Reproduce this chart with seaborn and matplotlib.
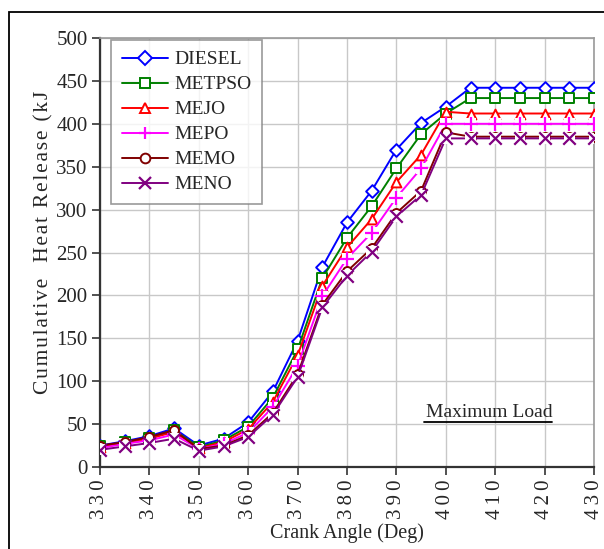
import matplotlib
matplotlib.use("Agg")
import matplotlib.pyplot as plt
import seaborn as sns
import pandas as pd
from matplotlib.patches import Rectangle
from matplotlib.lines import Line2D

crank_angle = [330, 335, 340, 345, 350, 355, 360, 365, 370, 375, 380,
               385, 390, 395, 400, 405, 410, 415, 420, 425, 430]
diesel = [25, 30, 36, 45, 25, 33, 52, 88, 147, 233, 285, 322, 370, 401, 420,
          442, 442, 442, 442, 442, 442]
metpso = [24, 29, 34, 43, 23, 31, 47, 81, 137, 220, 267, 304, 348, 388, 412,
          430, 430, 430, 430, 430, 430]
mejo = [23, 28, 33, 41, 22, 29, 44, 76, 130, 211, 256, 289, 332, 364, 414,
        412, 412, 412, 412, 412, 412]
mepo = [22, 27, 31, 38, 21, 27, 40, 70, 118, 199, 243, 273, 314, 348, 400,
        400, 400, 400, 400, 400, 400]
memo = [25, 29, 35, 43, 21, 25, 37, 63, 108, 189, 228, 255, 296, 322, 390,
        385, 385, 385, 385, 385, 385]
meno = [20, 24, 28, 33, 19, 24, 35, 61, 105, 186, 223, 251, 292, 317, 383,
        383, 383, 383, 383, 383, 383]

series_names = ["DIESEL", "METPSO", "MEJO", "MEPO", "MEMO", "MENO"]
series_values = [diesel, metpso, mejo, mepo, memo, meno]
colors = ["#0000FF", "#008000", "#FF0000", "#FF00FF", "#800000", "#800080"]
markers = ["D", "s", "^", "+", "o", "x"]
marker_sizes = [42, 45, 50, 90, 42, 80]
x_ticks = list(range(330, 431, 10))
y_ticks = list(range(0, 501, 50))
y_label = "Cumulative  Heat Release (kJ"
x_label = "Crank Angle (Deg)"

sns.set_style("white")
plt.rcParams["font.family"] = ["Liberation Serif", "DejaVu Serif"]

fig = plt.figure(figsize=(6.04, 5.49), dpi=100)
ax = fig.add_axes([100 / 604, 1 - 467 / 549, 494 / 604, 429 / 549])

handles = []
for i, (name, vals, c, m, s) in enumerate(zip(series_names, series_values,
                                               colors, markers, marker_sizes)):
    df = pd.DataFrame({"angle": crank_angle, "heat": vals})
    z = 3 + i * 0.1
    sns.lineplot(data=df, x="angle", y="heat", ax=ax, color=c,
                 linewidth=1.4, zorder=z, legend=False)
    if m in ("+", "x"):
        sns.scatterplot(data=df, x="angle", y="heat", ax=ax, marker="s",
                        s=60, color="white", facecolor="white",
                        edgecolor="none", linewidth=0, zorder=z + 0.01,
                        legend=False)
        sns.scatterplot(data=df, x="angle", y="heat", ax=ax, marker=m, s=s,
                        color=c, linewidth=1.6, zorder=z + 0.02, legend=False)
        handles.append(Line2D([], [], color=c, linewidth=1.4, marker=m,
                              markersize=9, markeredgewidth=1.6))
    else:
        sns.scatterplot(data=df, x="angle", y="heat", ax=ax, marker=m, s=s,
                        color=c, facecolor="white", edgecolor=c,
                        linewidth=1.4, zorder=z + 0.02, legend=False)
        handles.append(Line2D([], [], color=c, linewidth=1.4, marker=m,
                              markersize=7, markerfacecolor="white",
                              markeredgecolor=c, markeredgewidth=1.4))

ax.set_xlim(330, 430)
ax.set_ylim(0, 500)
ax.set_xticks(x_ticks)
ax.set_yticks(y_ticks)
ax.set_xticklabels(["\u2009".join(str(t)) for t in x_ticks], rotation=90,
                   fontsize=15)
ax.set_yticklabels([str(t) for t in y_ticks], fontsize=15)
ax.grid(True, color="#c8c8c8", linewidth=1.0, zorder=0)
ax.set_axisbelow(True)
ax.tick_params(axis="both", direction="out", length=6, width=1.2,
               color="#333333", pad=3, left=True, bottom=True)
for side in ("left", "bottom"):
    ax.spines[side].set_color("#333333")
    ax.spines[side].set_linewidth(1.6)
for side in ("top", "right"):
    ax.spines[side].set_color("#999999")
    ax.spines[side].set_linewidth(1.2)

ax.set_xlabel(x_label, fontsize=14.5, labelpad=3)
ax.set_ylabel("\u200a".join(y_label), fontsize=15.5)
ax.yaxis.set_label_coords(-0.094, 0.524)

leg = ax.legend(handles, series_names, loc="upper left",
                bbox_to_anchor=(0.022, 0.995), fontsize=14,
                frameon=True, fancybox=False, edgecolor="#808080",
                handlelength=2.4, handletextpad=0.3, labelspacing=0.38,
                borderpad=0.55, borderaxespad=0)
leg.get_frame().set_linewidth(1.2)
leg.set_zorder(10)

ax.text(408.8, 64, "Maximum Load", fontsize=14, ha="center", va="center",
        zorder=5)
ax.plot([395.5, 421.5], [52.0, 52.0], color="black", linewidth=1.3, zorder=5)

fig.patches.append(Rectangle((9 / 604, -0.1), 1.2, 1 - 12.5 / 549 + 0.1,
                             transform=fig.transFigure, fill=False,
                             edgecolor="black", linewidth=1.3, zorder=10))

fig.savefig("out.png", dpi=100)
